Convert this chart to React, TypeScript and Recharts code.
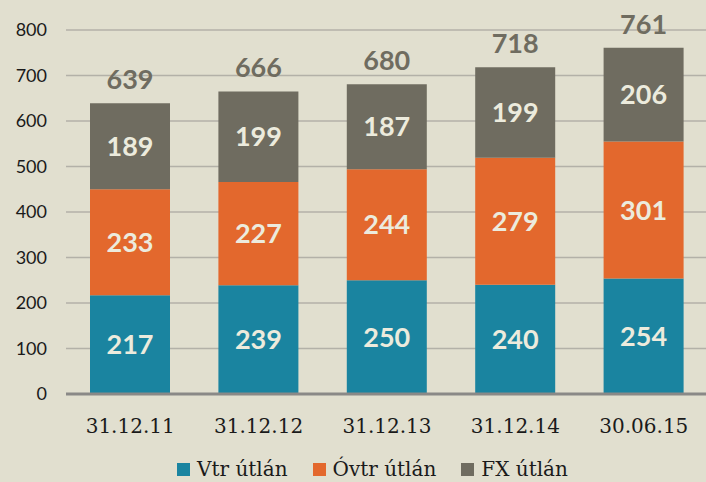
import React from "react";
import { BarChart, Bar, XAxis, YAxis, CartesianGrid, Legend, LabelList } from "recharts";

const categories = ["31.12.11", "31.12.12", "31.12.13", "31.12.14", "30.06.15"];
const vtr = [217, 239, 250, 240, 254];
const ovtr = [233, 227, 244, 279, 301];
const fx = [189, 199, 187, 199, 206];
const totals = [639, 666, 680, 718, 761];
const yTicks = [0, 100, 200, 300, 400, 500, 600, 700, 800];

const seriesNames = ["Vtr útlán", "Óvtr útlán", "FX útlán"];
const colors = ["#1a84a0", "#e3682d", "#6f6c60"];

const data = categories.map((c, i) => ({
  name: c,
  vtr: vtr[i],
  ovtr: ovtr[i],
  fx: fx[i],
  total: totals[i],
}));

const valueFont = { fontFamily: "Lato", fontWeight: 700, fontSize: 27 };

const LegendContent = () => (
  <div
    style={{
      height: 30,
      display: "flex",
      alignItems: "center",
      paddingLeft: 177,
      paddingTop: 4,
      boxSizing: "border-box",
      fontFamily: "DejaVu Serif",
      fontSize: 20,
      color: "#1a1a1a",
    }}
  >
    {seriesNames.map((n, i) => (
      <div key={n} style={{ display: "flex", alignItems: "center", marginRight: 25 }}>
        <div style={{ width: 13, height: 13, background: colors[i], marginRight: 7 }} />
        <span>{n}</span>
      </div>
    ))}
  </div>
);

export default function App() {
  return (
    <div
      style={{
        position: "fixed",
        left: 0,
        top: 0,
        width: 706,
        height: 482,
        overflow: "hidden",
        background: "#e1dfcf",
      }}
    >
      <BarChart
        width={708}
        height={482}
        data={data}
        margin={{ top: 30, right: 0, bottom: 0, left: 0 }}
        barSize={80}
      >
        <CartesianGrid vertical={false} stroke="#b3b1a8" strokeWidth={1.5} />
        <XAxis
          dataKey="name"
          height={58}
          tickLine={false}
          tickSize={0}
          tickMargin={25}
          axisLine={{ stroke: "#8a8987", strokeWidth: 3 }}
          tick={{ fill: "#1a1a1a", fontFamily: "DejaVu Serif", fontSize: 20 }}
          interval={0}
        />
        <YAxis
          width={66}
          domain={[0, 800]}
          ticks={yTicks}
          axisLine={false}
          tickLine={false}
          tickSize={0}
          tickMargin={19}
          tick={{ fill: "#1a1a1a", fontFamily: "Lato", fontSize: 18 }}
          interval={0}
        />
        <Legend verticalAlign="bottom" content={<LegendContent />} />
        <Bar dataKey="vtr" stackId="a" fill={colors[0]} isAnimationActive={false}>
          <LabelList dataKey="vtr" position="center" fill="#ecebdd" style={valueFont} />
        </Bar>
        <Bar dataKey="ovtr" stackId="a" fill={colors[1]} isAnimationActive={false}>
          <LabelList dataKey="ovtr" position="center" fill="#ecebdd" style={valueFont} />
        </Bar>
        <Bar dataKey="fx" stackId="a" fill={colors[2]} isAnimationActive={false}>
          <LabelList dataKey="fx" position="center" fill="#ecebdd" style={valueFont} />
          <LabelList dataKey="total" position="top" offset={14} fill="#6f6c60" style={valueFont} />
        </Bar>
      </BarChart>
    </div>
  );
}
